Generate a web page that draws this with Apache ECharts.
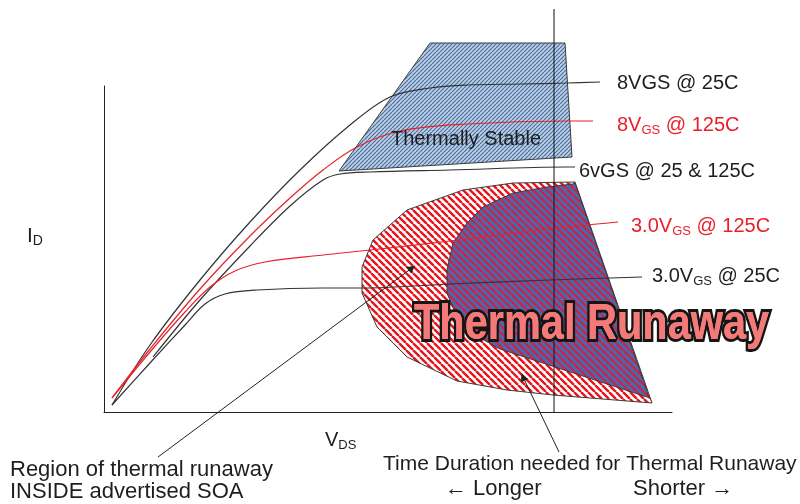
<!DOCTYPE html>
<html><head><meta charset="utf-8">
<script src="https://cdn.jsdelivr.net/npm/echarts@6/dist/echarts.min.js"></script>
<style>html,body{margin:0;padding:0;background:#fff}#c{width:800px;height:504px}</style>
</head><body><div id="c"></div>
<script>
// Conceptual units: 1 unit of VDS / ID (arbitrary)
const curve8V25C = [[0.8,0.7],[4.6,6.7],[9.6,13.2],[14.6,19.0],[19.6,24.2],[24.6,28.7],[28.6,31.5],[32.6,32.4],[36.3,32.7],[41.6,32.8],[46.3,32.9],[49.6,33.0]];
const curve8V125C = [[0.8,1.4],[4.6,6.3],[9.6,12.3],[14.6,17.6],[18.6,21.4],[21.9,24.2],[25.3,26.5],[29.6,28.1],[36.3,28.8],[46.3,29.1],[48.9,29.1]];
const curve6V = [[4.9,5.5],[9.6,11.2],[14.6,16.6],[18.6,20.6],[21.9,23.2],[23.6,23.8],[26.6,24.0],[34.6,24.2],[46.3,24.5],[47.1,24.5]];
const curve3V125C = [[0.8,1.4],[4.6,6.0],[8.1,10.0],[10.6,12.5],[13.1,14.1],[16.1,15.0],[21.9,15.7],[26.6,16.2],[34.6,17.1],[43.6,18.2],[51.4,19.0]];
const curve3V25C = [[0.8,0.7],[4.6,4.9],[8.1,8.7],[10.1,10.8],[12.1,11.8],[15.3,12.2],[21.9,12.4],[25.8,12.4],[34.6,12.8],[44.6,13.2],[53.8,13.5]];

const stableRegion = [[32.6,36.9],[46.1,36.9],[46.8,25.5],[23.5,24.1]];
const runawayRegion = [[25.8,14.5],[26.9,17.2],[30.3,20.2],[35.9,22.2],[40.9,22.9],[47.1,23.0],[54.8,0.9],[44.9,1.7],[40.3,2.2],[35.3,3.1],[30.3,5.5],[27.3,8.5],[25.8,11.9]];
const fastRegion = [[46.9,22.8],[44.3,22.5],[40.9,21.9],[37.9,20.5],[36.3,18.9],[34.9,16.9],[34.3,14.2],[34.3,11.9],[35.3,9.5],[37.1,7.7],[39.6,6.3],[54.3,1.5],[54.5,1.5],[47.1,22.9]];

const markerLine = [[45.0,40.3],[45.0,0]];
const arrowSOA = [[5.4,-4.5],[30.8,14.4]];
const arrowTime = [[45.5,-4.0],[41.9,3.5]];

const curveLabels = ['8VGS @ 25C','8V{s|GS} @ 125C','6vGS @ 25 & 125C','3.0V{s|GS} @ 125C','3.0V{s|GS} @ 25C'];

function stripes(bg, fg, n, w, dir) {
  const c = document.createElement('canvas');
  c.width = n; c.height = n;
  const g = c.getContext('2d');
  if (bg) { g.fillStyle = bg; g.fillRect(0, 0, n, n); }
  g.strokeStyle = fg; g.lineWidth = w; g.beginPath();
  for (let k = -1; k <= 1; k++) {
    if (dir === '\\') { g.moveTo(k*n, 0); g.lineTo(k*n+n, n); }
    else { g.moveTo(k*n, n); g.lineTo(k*n+n, 0); }
  }
  g.stroke();
  return c;
}
const patStable = {image: stripes('#bdd0e6', '#4a6f9e', 4, 1.2, '/'), repeat: 'repeat'};
const patRed = {image: stripes('#ffffff', '#e8141c', 7, 2.4, '\\'), repeat: 'repeat'};
const patBlueRed = {image: stripes('#4d66b2', '#e01a2a', 7, 1.8, '\\'), repeat: 'repeat'};

function polySeries(pts, fill, z) {
  return {
    type: 'custom', clip: false, z: z, silent: true, data: pts,
    renderItem: function (params, api) {
      if (params.dataIndex !== 0) return null;
      return {type: 'polygon', shape: {points: pts.map(p => api.coord(p))},
        style: {fill: fill, stroke: '#3c3c3c', lineWidth: 1}};
    }
  };
}
function curveSeries(d, color) {
  return {type: 'line', data: d, smooth: 0.35, symbol: 'none', clip: false, z: 5,
    silent: true, lineStyle: {color: color, width: 1.2}};
}

const BLK = '#1e1e1e', RED = '#e8202a', FONT = '"Liberation Sans", Arial, sans-serif';
function label(x, y, text, color, size) {
  return {type: 'text', x: x, y: y, z: 20, silent: true,
    style: {text: text, fill: color, font: (size||20) + 'px ' + FONT, align: 'left', verticalAlign: 'middle',
      lineHeight: 24, rich: {s: {fontSize: 13, fontFamily: FONT, fill: color, lineHeight: 13, verticalAlign: 'bottom'}}}};
}

const chart = echarts.init(document.getElementById('c'));
chart.setOption({
  animation: false,
  backgroundColor: '#fff',
  grid: {left: 104, right: 128, top: 86, bottom: 92},
  xAxis: {type: 'value', min: 0, max: 56.8, axisLine: {show: true, onZero: false, lineStyle: {color: '#222', width: 1}},
    axisTick: {show: false}, axisLabel: {show: false}, splitLine: {show: false}},
  yAxis: {type: 'value', min: 0, max: 32.6, axisLine: {show: true, onZero: false, lineStyle: {color: '#222', width: 1}},
    axisTick: {show: false}, axisLabel: {show: false}, splitLine: {show: false}},
  series: [
    polySeries(stableRegion, patStable, 1),
    polySeries(runawayRegion, patRed, 1),
    polySeries(fastRegion, patBlueRed, 2),
    curveSeries(curve8V25C, '#333'),
    curveSeries(curve8V125C, RED),
    curveSeries(curve6V, '#333'),
    curveSeries(curve3V125C, RED),
    curveSeries(curve3V25C, '#333'),
    {type: 'line', data: markerLine, symbol: 'none', clip: false, z: 6, silent: true, lineStyle: {color: '#111', width: 1}},
    {type: 'lines', coordinateSystem: 'cartesian2d', clip: false, z: 7, silent: true,
      symbol: ['none', 'triangle'], symbolSize: 8,
      lineStyle: {color: '#222', width: 1, opacity: 1},
      data: [{coords: arrowSOA}, {coords: arrowTime}]}
  ],
  graphic: [
    label(617, 83, curveLabels[0], BLK),
    label(617, 125, curveLabels[1], RED),
    label(579, 171, curveLabels[2], BLK),
    label(631, 226, curveLabels[3], RED),
    label(652, 276, curveLabels[4], BLK),
    label(391, 139, 'Thermally Stable', BLK),
    {type: 'text', x: 27, y: 236, z: 20, silent: true, style: {text: 'I{s|D}', fill: BLK, font: '21px ' + FONT,
      verticalAlign: 'middle', lineHeight: 24, rich: {s: {fontSize: 14, fontFamily: FONT, fill: BLK, lineHeight: 14, verticalAlign: 'bottom'}}}},
    {type: 'text', x: 325, y: 440, z: 20, silent: true, style: {text: 'V{s|DS}', fill: BLK, font: '20px ' + FONT,
      verticalAlign: 'middle', lineHeight: 24, rich: {s: {fontSize: 13, fontFamily: FONT, fill: BLK, lineHeight: 13, verticalAlign: 'bottom'}}}},
    label(10, 470, 'Region of thermal runaway', BLK, 22),
    label(10, 492, 'INSIDE advertised SOA', BLK, 22),
    label(383, 464, 'Time Duration needed for Thermal Runaway', BLK, 21),
    label(445, 489, '\u2190 Longer', BLK, 22),
    label(633, 489, 'Shorter \u2192', BLK, 22),
    {type: 'text', x: 414, y: 325, scaleX: 0.83, z: 30, silent: true,
      style: {text: 'Thermal Runaway', font: 'bold 50px ' + FONT, fill: '#f47a7a', stroke: '#151515', lineWidth: 6,
        align: 'left', verticalAlign: 'middle'}},
    {type: 'text', x: 414, y: 325, scaleX: 0.83, z: 31, silent: true,
      style: {text: 'Thermal Runaway', font: 'bold 50px ' + FONT, fill: '#f47a7a', align: 'left', verticalAlign: 'middle'}}
  ]
});
</script>
</body></html>
